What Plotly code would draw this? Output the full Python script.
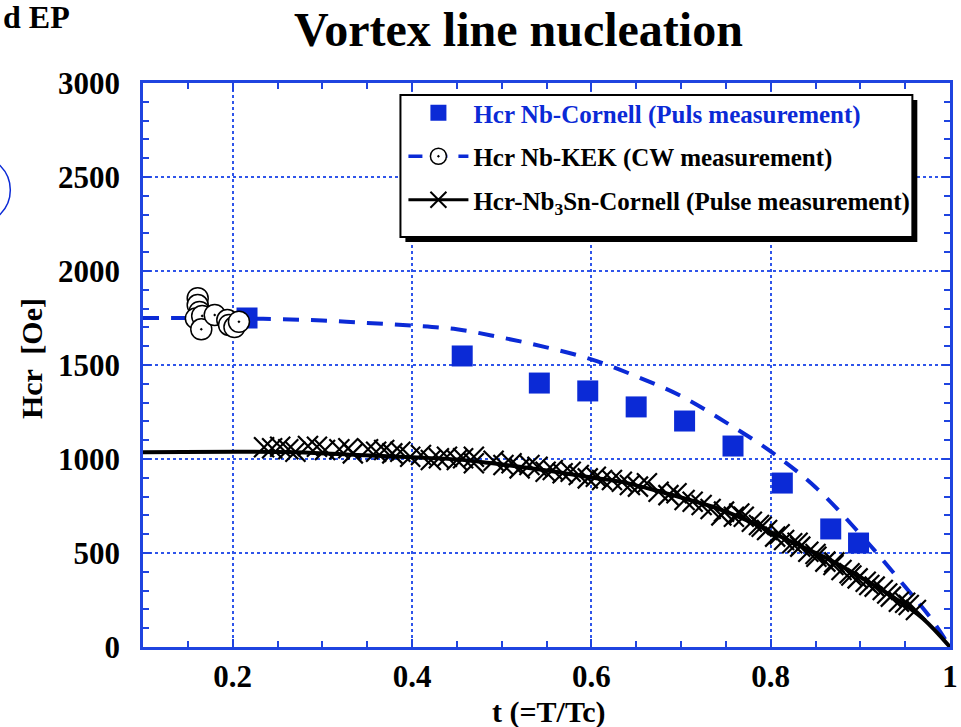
import plotly.graph_objects as go

# ---------------- data ----------------
# Hcr Nb-Cornell (pulse measurement) - blue squares
nb_cornell_t = [0.216, 0.456, 0.542, 0.596, 0.650, 0.704, 0.758, 0.813, 0.867, 0.898]
nb_cornell_h = [1750, 1548, 1404, 1362, 1277, 1202, 1069, 872, 628, 553]

# Hcr Nb-KEK (CW measurement) - open circles
kek_t = [0.161, 0.161, 0.163, 0.159, 0.166, 0.165, 0.180, 0.194, 0.196, 0.202, 0.207]
kek_h = [1855, 1819, 1782, 1748, 1761, 1690, 1766, 1739, 1713, 1702, 1730]

# Nb-KEK curve (dashed)
kek_fit_t = [0.10, 0.20, 0.25, 0.30, 0.35, 0.40, 0.45, 0.50, 0.55, 0.60, 0.65,
             0.70, 0.75, 0.80, 0.85, 0.90, 0.95, 0.98, 1.00]
kek_fit_h = [1750, 1748, 1744, 1737, 1724, 1710, 1690, 1646, 1594, 1530, 1440,
             1335, 1195, 1040, 850, 600, 320, 144, 0]

# Nb3Sn-Cornell curve (solid)
sn_fit_t = [0.10, 0.27, 0.34, 0.40, 0.45, 0.49, 0.52, 0.56, 0.60, 0.635, 0.67,
            0.70, 0.74, 0.78, 0.80, 0.83, 0.87, 0.905, 0.94, 0.97, 1.00]
sn_fit_h = [1036, 1036, 1021, 1009, 998, 977, 959, 932, 902, 877, 835,
            795, 738, 660, 612, 545, 454, 358, 255, 150, 0]

# Hcr-Nb3Sn-Cornell (pulse measurement) - crosses
sn_t = [0.235, 0.244, 0.253, 0.262, 0.270, 0.284, 0.294, 0.303, 0.319, 0.329,
        0.334, 0.351, 0.360, 0.369, 0.378, 0.387, 0.398, 0.410, 0.421, 0.430,
        0.439, 0.450, 0.457, 0.469, 0.469, 0.491, 0.502, 0.511, 0.520, 0.531,
        0.540, 0.549, 0.557, 0.568, 0.577, 0.586, 0.596, 0.605, 0.612, 0.623,
        0.634, 0.643, 0.652, 0.662, 0.675, 0.686, 0.695, 0.704, 0.713, 0.723,
        0.733, 0.745, 0.748, 0.759, 0.765, 0.770, 0.779, 0.787, 0.790, 0.796,
        0.805, 0.810, 0.815, 0.824, 0.830, 0.833, 0.842, 0.850, 0.851, 0.861,
        0.870, 0.871, 0.879, 0.888, 0.890, 0.897, 0.906, 0.910, 0.916, 0.925,
        0.930, 0.934, 0.943, 0.950, 0.954, 0.962]
sn_h = [1062, 1057, 1065, 1052, 1039, 1069, 1065, 1048, 1052, 1057,
        1030, 1052, 1039, 1048, 1030, 1039, 1012, 1021, 995, 1004,
        1012, 995, 1004, 977, 1012, 991, 968, 977, 950, 968,
        959, 932, 941, 924, 932, 915, 897, 906, 888, 888,
        879, 862, 853, 871, 826, 808, 818, 782, 773, 755,
        734, 700, 720, 693, 710, 693, 666, 649, 640, 622,
        587, 600, 569, 552, 555, 534, 507, 495, 480, 454,
        436, 450, 410, 392, 380, 365, 347, 330, 321, 303,
        285, 268, 241, 235, 223, 197]

x_tick_vals = [0.2, 0.4, 0.6, 0.8, 1.0]
x_tick_text = ["0.2", "0.4", "0.6", "0.8", "1"]

# ---------------- styling ----------------
BLUE = "#0b2ad6"
GRID_BLUE = "#2f55ea"
AXIS_BLUE = "#1f44e0"
FONT = "Liberation Serif"

fig = go.Figure()

# data traces (no legend)
fig.add_trace(go.Scatter(x=kek_fit_t, y=kek_fit_h, mode="lines", showlegend=False,
                         line=dict(color=BLUE, width=4, dash="16px,12px", shape="spline")))
fig.add_trace(go.Scatter(x=nb_cornell_t, y=nb_cornell_h, mode="markers", showlegend=False,
                         marker=dict(symbol="square", size=21, color=BLUE, line=dict(width=0))))
fig.add_trace(go.Scatter(x=kek_t, y=kek_h, mode="markers", showlegend=False,
                         marker=dict(symbol="circle-dot", size=21, color="white",
                                     line=dict(color="black", width=1.5))))
fig.add_trace(go.Scatter(x=sn_t, y=sn_h, mode="markers", showlegend=False,
                         marker=dict(symbol="x-thin", size=20,
                                     line=dict(color="black", width=2.2))))
fig.add_trace(go.Scatter(x=sn_fit_t, y=sn_fit_h, mode="lines", showlegend=False,
                         line=dict(color="black", width=4, shape="spline")))

# legend entries
fig.add_trace(go.Scatter(x=[None], y=[None], mode="markers", legendgroup="a",
                         name='<span style="color:%s">Hcr Nb-Cornell (Puls measurement)</span>' % BLUE,
                         marker=dict(symbol="square", size=20, color=BLUE)))
fig.add_trace(go.Scatter(x=[None], y=[None], mode="lines+markers", legendgroup="b",
                         name="Hcr Nb-KEK (CW measurement)",
                         line=dict(color=BLUE, width=3.5, dash="14px,11px"),
                         marker=dict(symbol="circle-dot", size=20, color="white",
                                     line=dict(color="black", width=1.5))))
fig.add_trace(go.Scatter(x=[None], y=[None], mode="lines+markers", legendgroup="c",
                         name="Hcr-Nb<sub>3</sub>Sn-Cornell (Pulse measurement)",
                         line=dict(color="black", width=3),
                         marker=dict(symbol="x-thin", size=20, line=dict(color="black", width=2))))

# helper for pixel -> paper
L, R, T, B = 143, 958, 83, 647
def px(x):
    return (x - L) / (R - L)
def py(y):
    return (B - y) / (B - T)

shapes = [
    # legend shadow and box
    dict(type="rect", xref="paper", yref="paper", x0=px(408), x1=px(925), y0=py(242), y1=py(100),
         fillcolor="black", line=dict(width=0), layer="above"),
    dict(type="rect", xref="paper", yref="paper", x0=px(403), x1=px(920), y0=py(237), y1=py(95),
         fillcolor="white", line=dict(color="black", width=2), layer="above"),
    # partial circle from the neighbouring slide at the left edge
    dict(type="circle", xref="paper", yref="paper", x0=px(-59), x1=px(9), y0=py(224), y1=py(156),
         line=dict(color=BLUE, width=1.5), layer="above"),
]

annotations = [
    dict(text="Vortex line nucleation", xref="paper", yref="paper", x=px(522), y=py(29),
         xanchor="center", yanchor="middle", showarrow=False,
         font=dict(family=FONT, size=48, color="black", weight="bold")),
    dict(text="d EP", xref="paper", yref="paper", x=px(0), y=py(17),
         xanchor="left", yanchor="middle", showarrow=False,
         font=dict(family=FONT, size=32, color="black", weight="bold")),
    dict(text="Hcr  [Oe]", xref="paper", yref="paper", x=px(30), y=py(359),
         xanchor="center", yanchor="middle", showarrow=False, textangle=-90,
         font=dict(family=FONT, size=30, color="black", weight="bold")),
    dict(text="t (=T/Tc)", xref="paper", yref="paper", x=px(553), y=py(712),
         xanchor="center", yanchor="middle", showarrow=False,
         font=dict(family=FONT, size=30, color="black", weight="bold")),
]

axis_common = dict(
    showline=True, linecolor=AXIS_BLUE, linewidth=2.5, mirror="allticks",
    ticks="inside", ticklen=8, tickwidth=2, tickcolor=AXIS_BLUE,
    showgrid=True, gridcolor=GRID_BLUE, gridwidth=1.6, griddash="dot",
    zeroline=False, ticklabeloverflow="allow",
    tickfont=dict(family=FONT, size=31, color="black", weight="bold"),
)

fig.update_xaxes(range=[0.1, 1.0], tickmode="array", tickvals=x_tick_vals, ticktext=x_tick_text,
                 minor=dict(dtick=0.05, tick0=0.1, ticks="inside", ticklen=6, tickwidth=1.5,
                            tickcolor=AXIS_BLUE, showgrid=False),
                 ticklabelstandoff=0, **axis_common)
fig.update_yaxes(range=[0, 3000], dtick=500, tick0=0,
                 minor=dict(dtick=100, ticks="inside", ticklen=6, tickwidth=1.5,
                            tickcolor=AXIS_BLUE, showgrid=False),
                 ticklabelstandoff=14, **axis_common)

fig.update_layout(
    width=961, height=727,
    margin=dict(l=L, r=961 - R, t=T, b=727 - B),
    paper_bgcolor="white", plot_bgcolor="white",
    showlegend=True,
    legend=dict(x=px(406), y=py(90), xanchor="left", yanchor="top",
                bgcolor="rgba(0,0,0,0)", borderwidth=0,
                traceorder="grouped", tracegroupgap=8, itemwidth=60,
                font=dict(family=FONT, size=25, color="black", weight="bold")),
    shapes=shapes,
    annotations=annotations,
)

fig.write_html("out.html")
